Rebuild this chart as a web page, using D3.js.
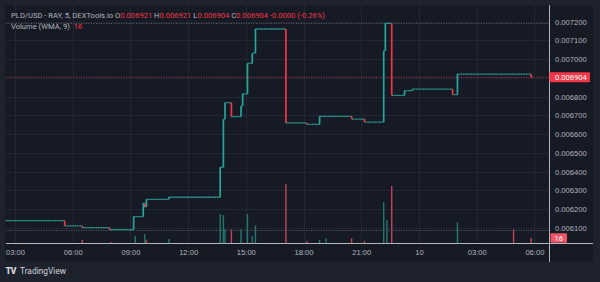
<!DOCTYPE html>
<html lang="en">
<head>
<meta charset="UTF-8">
<title>PLD/USD - RAY</title>
<script src="https://d3js.org/d3.v7.min.js"></script>
<style>
  html, body { margin: 0; padding: 0; background: #1e222d; }
  svg { display: block; font-family: Roboto, "Noto Sans", sans-serif; }
  .grid line { stroke: #232734; stroke-width: 1; }
  .xaxis text { fill: #b2b5be; font-size: 7.6px; }
  .paxis text { fill: #b2b5be; font-size: 7.6px; }
</style>
</head>
<body>
<script>
// price path (step changes)
const stepTimes = ["09 02:30", "09 05:35", "09 06:30", "09 07:55", "09 09:10", "09 09:40", "09 09:45",
  "09 09:50", "09 11:00", "09 13:40", "09 13:50", "09 13:55", "09 14:15", "09 14:45", "09 14:50",
  "09 15:05", "09 15:20", "09 15:30", "09 17:05", "09 18:10", "09 18:50", "09 20:30", "09 21:10",
  "09 22:10", "09 22:15", "09 22:35", "09 23:15", "09 23:40", "10 01:45", "10 02:00", "10 05:50"];
const stepPrices = [0.006139, 0.006111, 0.006102, 0.006091, 0.006161, 0.006232, 0.006212,
  0.006253, 0.006264, 0.006424, 0.006680, 0.006768, 0.006694, 0.006751, 0.006815,
  0.006978, 0.007032, 0.007161, 0.006660, 0.006653, 0.006695, 0.006681, 0.006665,
  0.007045, 0.007191, 0.006807, 0.006832, 0.006840, 0.006811, 0.006921, 0.006904];
const lastBarEnd = "10 05:55";

// volume bars
const volTimes = ["09 06:30", "09 08:00", "09 09:15", "09 09:45", "09 09:50", "09 11:00", "09 13:40",
  "09 13:50", "09 13:55", "09 14:15", "09 14:45", "09 15:05", "09 15:20", "09 15:30", "09 17:05",
  "09 18:10", "09 18:50", "09 19:10", "09 20:30", "09 21:10", "09 22:10", "09 22:20", "09 22:35",
  "10 02:00", "10 04:55", "10 05:50"];
const volValues = [10, 3, 23, 29, 10, 13, 94, 90, 45, 44, 44, 93, 23, 57, 190,
  6, 10, 15, 15, 6, 132, 74, 184, 67, 44, 16];
const volUp = [0, 0, 1, 1, 0, 1, 1, 1, 1, 0, 1, 1, 1, 1, 0,
  0, 1, 1, 0, 0, 1, 1, 0, 1, 0, 0];

const tickTimes = ["09 03:00", "09 06:00", "09 09:00", "09 12:00", "09 15:00", "09 18:00",
  "09 21:00", "10 00:00", "10 03:00", "10 06:00"];
const tickLabels = ["03:00", "06:00", "09:00", "12:00", "15:00", "18:00", "21:00", "10", "03:00", "06:00"];
const priceTicks = [0.0061, 0.0062, 0.0063, 0.0064, 0.0065, 0.0066, 0.0067, 0.0068, 0.0069, 0.0070, 0.0071, 0.0072];

const lastPrice = 0.006904;
const highPrice = 0.007191;
const lowPrice = 0.006091;
const lastVolume = 16;

const parse = d3.timeParse("%d %H:%M");
const W = 600, H = 282;
const up = "#26a69a", down = "#f23645";

const svg = d3.select("body").append("svg").attr("width", W).attr("height", H);

// frame and pane
svg.append("rect").attr("width", W).attr("height", H).attr("fill", "#1e222d");
svg.append("rect").attr("x", 5).attr("y", 5).attr("width", 588).attr("height", 257).attr("fill", "#161a25");

const plotL = 6, plotR = 549, plotT = 5, plotB = 243;

const x = d3.scaleTime()
  .domain([parse(tickTimes[0]), parse(tickTimes[tickTimes.length - 1])])
  .range([15, 534.4]);
const y = d3.scaleLinear().domain([0.0061, 0.0072]).range([228, 21.7]);
const yv = d3.scaleLinear().domain([0, 200]).range([plotB, 181]);

// grid
const grid = svg.append("g").attr("class", "grid");
grid.selectAll("line.v").data(tickTimes).join("line").attr("class", "v")
  .attr("x1", d => Math.round(x(parse(d))) + 0.5).attr("x2", d => Math.round(x(parse(d))) + 0.5)
  .attr("y1", plotT).attr("y2", plotB);
grid.selectAll("line.h").data(priceTicks).join("line").attr("class", "h")
  .attr("x1", plotL).attr("x2", plotR)
  .attr("y1", d => Math.round(y(d)) + 0.5).attr("y2", d => Math.round(y(d)) + 0.5);

// volume
svg.append("g").selectAll("rect").data(volTimes).join("rect")
  .attr("x", d => x(parse(d)) - 0.7)
  .attr("width", 1.4)
  .attr("y", (d, i) => yv(volValues[i]))
  .attr("height", (d, i) => plotB - yv(volValues[i]))
  .attr("fill", (d, i) => volUp[i] ? "#22786f" : "#c24556");

// high / low dotted lines
[highPrice, lowPrice].forEach(p => {
  svg.append("line").attr("x1", plotL).attr("x2", plotR)
    .attr("y1", Math.round(y(p)) + 0.5).attr("y2", Math.round(y(p)) + 0.5)
    .attr("stroke", "#5d606b").attr("stroke-dasharray", "1,1.5");
});
svg.append("line").attr("x1", plotL).attr("x2", plotR)
  .attr("y1", y(lastPrice)).attr("y2", y(lastPrice))
  .attr("stroke", "#b83a4b").attr("stroke-dasharray", "1,1.5");

// price step line
const pts = stepTimes.map((t, i) => ({ t: parse(t), p: stepPrices[i] }));
const line = svg.append("g").attr("fill", "none");
pts.forEach((d, i) => {
  const tEnd = i < pts.length - 1 ? pts[i + 1].t : parse(lastBarEnd);
  line.append("line")
    .attr("x1", x(d.t)).attr("x2", x(tEnd))
    .attr("y1", y(d.p)).attr("y2", y(d.p))
    .attr("stroke", i === pts.length - 1 ? down : "#2a9a8f")
    .attr("stroke-width", 1.3)
    .attr("stroke-dasharray", "1.4,0.3");
  if (i > 0) {
    const prev = pts[i - 1];
    line.append("line")
      .attr("x1", x(d.t)).attr("x2", x(d.t))
      .attr("y1", y(prev.p)).attr("y2", y(d.p))
      .attr("stroke", d.p >= prev.p ? up : down)
      .attr("stroke-width", 1.7);
  }
});

// axes lines
svg.append("line").attr("x1", plotL).attr("x2", 593).attr("y1", plotB + 0.5).attr("y2", plotB + 0.5)
  .attr("stroke", "#b2b5be").attr("stroke-width", 1);
svg.append("line").attr("x1", plotR + 0.5).attr("x2", plotR + 0.5).attr("y1", plotT).attr("y2", 262)
  .attr("stroke", "#b2b5be").attr("stroke-width", 1);

// time axis
svg.append("g").attr("class", "xaxis")
  .attr("transform", `translate(0,${plotB})`)
  .call(d3.axisBottom(x).tickValues(tickTimes.map(parse))
    .tickFormat((d, i) => tickLabels[i]).tickSize(0).tickPadding(7))
  .call(g => g.select(".domain").remove());

// price axis
svg.append("g").attr("class", "paxis")
  .attr("transform", `translate(${plotR},0)`)
  .call(d3.axisRight(y).tickValues(priceTicks).tickFormat(d3.format(".6f")).tickSize(0).tickPadding(6))
  .call(g => g.select(".domain").remove());

// last price label
svg.append("rect").attr("x", plotR + 0.5).attr("y", y(lastPrice) - 5).attr("width", 40.5).attr("height", 10)
  .attr("fill", down).attr("rx", 1);
svg.append("text").attr("x", plotR + 6).attr("y", y(lastPrice)).attr("dy", "0.34em")
  .attr("fill", "#fff").style("font-size", "7.6px").text(d3.format(".6f")(lastPrice));

// last volume label
svg.append("rect").attr("x", plotR + 1.5).attr("y", yv(lastVolume) - 4.7).attr("width", 16.5).attr("height", 9.4)
  .attr("fill", "#f05565").attr("rx", 1);
svg.append("text").attr("x", plotR + 9.7).attr("y", yv(lastVolume)).attr("dy", "0.34em")
  .attr("text-anchor", "middle").attr("fill", "#fff").style("font-size", "7.6px").text(lastVolume);

// legend
const grey = "#b2b5be", red = "#f23645";
const leg = svg.append("text").attr("x", 11).attr("y", 17.5).style("font-size", "7.6px");
[["PLD/USD - RAY, 5, DEXTools.io ", grey], ["O", grey], ["0.006921 ", red], ["H", grey], ["0.006921 ", red],
 ["L", grey], ["0.006904 ", red], ["C", grey], ["0.006904 ", red], ["-0.0000 (-0.26%)", red]]
  .forEach(([t, c]) => leg.append("tspan").attr("fill", c).text(t));
leg.attr("xml:space", "preserve");
const leg2 = svg.append("text").attr("x", 11).attr("y", 29).style("font-size", "7.6px").attr("xml:space", "preserve");
leg2.append("tspan").attr("fill", grey).text("Volume (WMA, 9)  ");
leg2.append("tspan").attr("fill", red).text(lastVolume);

// TradingView mark
svg.append("text").attr("x", 5.5).attr("y", 274).attr("fill", "#d1d4dc")
  .style("font-size", "9px").style("font-weight", "900").style("letter-spacing", "-0.8px").text("TV");
svg.append("text").attr("x", 20).attr("y", 274).attr("fill", "#d1d4dc")
  .style("font-size", "8.4px").text("TradingView");
</script>
</body>
</html>
